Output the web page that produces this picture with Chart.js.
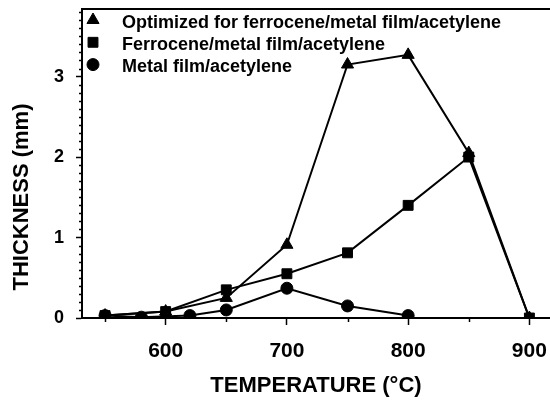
<!DOCTYPE html>
<html><head><meta charset="utf-8">
<script src="https://cdn.jsdelivr.net/npm/chart.js@4/dist/chart.umd.min.js"></script>
<style>html,body{margin:0;padding:0;background:#fff}#wrap{width:550px;height:401px}</style>
</head><body><div id="wrap"><canvas id="c" width="550" height="401"></canvas></div>
<script>
const seriesLabels = ['Optimized for ferrocene/metal film/acetylene', 'Ferrocene/metal film/acetylene', 'Metal film/acetylene'];
const seriesMarkers = ['triangle', 'rect', 'circle'];
const optTemps = [550, 600, 650, 700, 750, 800, 850, 900];
const optThick = [0.03, 0.08, 0.25, 0.91, 3.15, 3.27, 2.05, 0.0];
const ferTemps = [550, 600, 650, 700, 750, 800, 850, 900];
const ferThick = [0.03, 0.08, 0.35, 0.55, 0.81, 1.40, 2.00, 0.0];
const metTemps = [550, 580, 620, 650, 700, 750, 800];
const metThick = [0.03, 0.01, 0.03, 0.10, 0.37, 0.15, 0.03];
const xTickValues = [600, 700, 800, 900];
const yTickValues = [0, 1, 2, 3];
const xTitle = 'TEMPERATURE (\u00B0C)';
const yTitle = 'THICKNESS (mm)';

const FONT = "'Liberation Sans', Arial, sans-serif";
const toPts = (xs, ys) => xs.map((x, i) => ({x: x, y: ys[i]}));
const radii = {triangle: 7, rect: 7, circle: 6};

function makeDs(i, xs, ys) {
  return {
    label: seriesLabels[i],
    data: toPts(xs, ys),
    showLine: true,
    borderColor: '#000',
    borderWidth: 2,
    backgroundColor: '#000',
    pointStyle: seriesMarkers[i],
    pointRadius: radii[seriesMarkers[i]],
    pointBackgroundColor: '#000',
    pointBorderColor: '#000',
    pointBorderWidth: 1,
    tension: 0
  };
}

const extras = {
  id: 'extras',
  afterDraw(chart) {
    const {ctx, chartArea: a, scales} = chart;
    const xs = scales.x, ys = scales.y;
    ctx.save();
    ctx.strokeStyle = '#000';
    ctx.fillStyle = '#000';
    // top frame line
    ctx.lineWidth = 2;
    ctx.beginPath(); ctx.moveTo(a.left - 1, a.top); ctx.lineTo(a.right, a.top); ctx.stroke();
    // minor ticks
    ctx.lineWidth = 1.5;
    for (let i = 1; i <= 38; i++) {
      if (i % 10 === 0) continue;
      const py = Math.round(ys.getPixelForValue(i / 10)) + 0.5;
      ctx.beginPath(); ctx.moveTo(a.left - 3, py); ctx.lineTo(a.left, py); ctx.stroke();
    }
    for (let v = 550; v <= 900; v += 100) {
      const px = Math.round(xs.getPixelForValue(v)) + 0.5;
      ctx.beginPath(); ctx.moveTo(px, a.bottom); ctx.lineTo(px, a.bottom + 4); ctx.stroke();
    }
    // y title
    ctx.font = "bold 22px " + FONT;
    ctx.textAlign = 'center';
    ctx.textBaseline = 'middle';
    ctx.translate(22, 197);
    ctx.rotate(-Math.PI / 2);
    ctx.fillText(yTitle, 0, 0);
    ctx.restore();
    // legend inside plot area
    ctx.save();
    ctx.fillStyle = '#000';
    ctx.strokeStyle = '#000';
    ctx.font = "bold 18px " + FONT;
    ctx.textAlign = 'left';
    ctx.textBaseline = 'alphabetic';
    chart.data.datasets.forEach((ds, i) => {
      const cy = a.top + 11 + i * 22.3;
      Chart.helpers.drawPoint(ctx, {pointStyle: ds.pointStyle, radius: ds.pointRadius, borderWidth: 1, rotation: 0}, a.left + 11, cy);
      ctx.fillText(ds.label, a.left + 40, cy + 7.5);
    });
    ctx.restore();
  }
};

new Chart(document.getElementById('c'), {
  type: 'scatter',
  data: {
    datasets: [
      makeDs(0, optTemps, optThick),
      makeDs(1, ferTemps, ferThick),
      makeDs(2, metTemps, metThick)
    ]
  },
  options: {
    responsive: false,
    animation: false,
    devicePixelRatio: 1,
    layout: {autoPadding: false, padding: {top: 9, right: 0, left: 0, bottom: 0}},
    plugins: {legend: {display: false}, tooltip: {enabled: false}},
    scales: {
      x: {
        type: 'linear', min: 531, max: 917,
        afterBuildTicks: s => { s.ticks = xTickValues.map(v => ({value: v})); },
        afterFit: s => { s.height = 83; s.paddingLeft = 0; s.paddingRight = 0; },
        border: {display: true, color: '#000', width: 2},
        grid: {display: true, drawOnChartArea: false, drawTicks: true, tickLength: 7, color: '#000', tickWidth: 1.5},
        ticks: {color: '#000', font: {family: FONT, size: 21, weight: 'bold'}, padding: 14, maxRotation: 0},
        title: {display: true, text: xTitle, color: '#000', font: {family: FONT, size: 22, weight: 'bold'}, padding: {top: 0, bottom: 2}}
      },
      y: {
        type: 'linear', min: 0, max: 3.84,
        afterBuildTicks: s => { s.ticks = yTickValues.map(v => ({value: v})); },
        afterFit: s => { s.width = 82; s.paddingTop = 0; s.paddingBottom = 0; },
        border: {display: true, color: '#000', width: 2},
        grid: {display: true, drawOnChartArea: false, drawTicks: true, tickLength: 6, color: '#000', tickWidth: 1.5},
        ticks: {color: '#000', font: {family: FONT, size: 18, weight: 'bold'}, padding: 12},
        title: {display: false}
      }
    }
  },
  plugins: [extras]
});
</script>
</body></html>
